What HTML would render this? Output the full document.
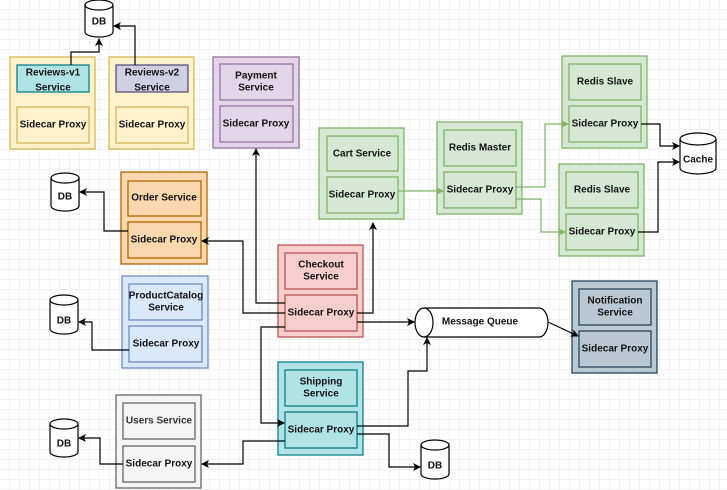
<!DOCTYPE html>
<html><head><meta charset="utf-8"><style>
html,body{margin:0;padding:0;background:#fff}
svg{display:block}
text{font-family:"Liberation Sans",Arial,sans-serif;font-size:10px;font-weight:bold;fill:#111;text-anchor:middle;dominant-baseline:central}
</style></head><body>
<svg width="727" height="490" viewBox="0 0 727 490" xmlns="http://www.w3.org/2000/svg">
<defs>
<pattern id="g" width="10" height="10" patternUnits="userSpaceOnUse"><path d="M10 0V10H0" fill="none" stroke="#e4e4e4" stroke-width="1"/></pattern>
<marker id="a" markerWidth="8" markerHeight="8" refX="7" refY="4" orient="auto" markerUnits="userSpaceOnUse"><path d="M0,0 L8,4 L0,8 L2,4z" fill="#000"/></marker>
<marker id="ag" markerWidth="8" markerHeight="8" refX="7" refY="4" orient="auto" markerUnits="userSpaceOnUse"><path d="M0,0 L8,4 L0,8 L2,4z" fill="#82b366"/></marker>
</defs>
<rect width="727" height="490" fill="url(#g)"/>

<!-- boxes -->
<g stroke-width="1.3">
<!-- Reviews v1 -->
<rect x="10" y="57" width="85" height="92" fill="#fff2cc" stroke="#d6b656"/>
<rect x="17" y="65" width="72" height="27" fill="#b0e3e6" stroke="#0e8088"/>
<rect x="17" y="107" width="72" height="36" fill="#fff2cc" stroke="#d6b656"/>
<!-- Reviews v2 -->
<rect x="109" y="57" width="85" height="92" fill="#fff2cc" stroke="#d6b656"/>
<rect x="116" y="65" width="72" height="27" fill="#d0cee2" stroke="#56517e"/>
<rect x="116" y="107" width="72" height="36" fill="#fff2cc" stroke="#d6b656"/>
<!-- Payment -->
<rect x="213" y="57" width="86" height="91" fill="#e1d5e7" stroke="#9673a6"/>
<rect x="220" y="64" width="73" height="36" fill="#e1d5e7" stroke="#9673a6"/>
<rect x="220" y="106" width="73" height="36" fill="#e1d5e7" stroke="#9673a6"/>
<!-- Order -->
<rect x="121" y="172" width="86" height="92" fill="#fad7ac" stroke="#b46504"/>
<rect x="128" y="181" width="73" height="35" fill="#fad7ac" stroke="#b46504"/>
<rect x="128" y="222" width="73" height="36" fill="#fad7ac" stroke="#b46504"/>
<!-- Cart -->
<rect x="319" y="128" width="85" height="91" fill="#d5e8d4" stroke="#82b366"/>
<rect x="327" y="136" width="71" height="35" fill="#d5e8d4" stroke="#82b366"/>
<rect x="327" y="177" width="71" height="36" fill="#d5e8d4" stroke="#82b366"/>
<!-- Redis master -->
<rect x="437" y="122" width="85" height="92" fill="#d5e8d4" stroke="#82b366"/>
<rect x="444" y="130" width="72" height="36" fill="#d5e8d4" stroke="#82b366"/>
<rect x="444" y="172" width="72" height="36" fill="#d5e8d4" stroke="#82b366"/>
<!-- slave 1 -->
<rect x="562" y="56" width="85" height="92" fill="#d5e8d4" stroke="#82b366"/>
<rect x="569" y="64" width="72" height="36" fill="#d5e8d4" stroke="#82b366"/>
<rect x="569" y="106" width="72" height="36" fill="#d5e8d4" stroke="#82b366"/>
<!-- slave 2 -->
<rect x="559" y="164" width="85" height="92" fill="#d5e8d4" stroke="#82b366"/>
<rect x="566" y="172" width="72" height="36" fill="#d5e8d4" stroke="#82b366"/>
<rect x="566" y="214" width="72" height="36" fill="#d5e8d4" stroke="#82b366"/>
<!-- Checkout -->
<rect x="278" y="245" width="85" height="92" fill="#f8cecc" stroke="#b85450"/>
<rect x="285" y="253" width="72" height="36" fill="#f8cecc" stroke="#b85450"/>
<rect x="285" y="295" width="72" height="36" fill="#f8cecc" stroke="#b85450"/>
<!-- ProductCatalog -->
<rect x="122" y="276" width="86" height="92" fill="#dae8fc" stroke="#6c8ebf"/>
<rect x="129" y="284" width="73" height="36" fill="#dae8fc" stroke="#6c8ebf"/>
<rect x="129" y="326" width="73" height="36" fill="#dae8fc" stroke="#6c8ebf"/>
<!-- Notification -->
<rect x="572" y="281" width="85" height="92" fill="#bac8d3" stroke="#23445d"/>
<rect x="579" y="289" width="72" height="36" fill="#bac8d3" stroke="#23445d"/>
<rect x="579" y="331" width="72" height="36" fill="#bac8d3" stroke="#23445d"/>
<!-- Shipping -->
<rect x="278" y="362" width="85" height="93" fill="#b0e3e6" stroke="#0e8088"/>
<rect x="285" y="370" width="72" height="36" fill="#b0e3e6" stroke="#0e8088"/>
<rect x="285" y="412" width="72" height="36" fill="#b0e3e6" stroke="#0e8088"/>
<!-- Users -->
<rect x="116" y="395" width="85" height="93" fill="#f5f5f5" stroke="#666"/>
<rect x="123" y="403" width="72" height="36" fill="#f5f5f5" stroke="#666"/>
<rect x="123" y="446" width="72" height="36" fill="#f5f5f5" stroke="#666"/>
</g>

<!-- cylinders -->
<g fill="#fff" stroke="#000" stroke-width="1.2">
<path d="M85,5 a14,5 0 0 1 28,0 v27 a14,5 0 0 1 -28,0z"/><path d="M85,5 a14,5 0 0 0 28,0" fill="none"/>
<path d="M51,178 a14,5 0 0 1 28,0 v28 a14,5 0 0 1 -28,0z"/><path d="M51,178 a14,5 0 0 0 28,0" fill="none"/>
<path d="M50,300 a14,5 0 0 1 28,0 v29 a14,5 0 0 1 -28,0z"/><path d="M50,300 a14,5 0 0 0 28,0" fill="none"/>
<path d="M50,424 a14,5 0 0 1 28,0 v28 a14,5 0 0 1 -28,0z"/><path d="M50,424 a14,5 0 0 0 28,0" fill="none"/>
<path d="M421,445 a14,5 0 0 1 28,0 v29 a14,5 0 0 1 -28,0z"/><path d="M421,445 a14,5 0 0 0 28,0" fill="none"/>
<path d="M680,139 a18,6 0 0 1 36,0 v29 a18,6 0 0 1 -36,0z"/><path d="M680,139 a18,6 0 0 0 36,0" fill="none"/>
<path d="M424,308 h115 a9,14.5 0 0 1 0,29 h-115 a9,14.5 0 0 1 0,-29z"/><path d="M424,308 a9,14.5 0 0 1 0,29" fill="none"/>
</g>

<!-- connectors -->
<g fill="none" stroke="#000" stroke-width="1.2">
<path d="M71,65 V52 H99 V39" marker-end="url(#a)"/>
<path d="M135,65 V26 H114" marker-end="url(#a)"/>
<path d="M128,231 H104 V192 H80" marker-end="url(#a)"/>
<path d="M285,303 H256 V149" marker-end="url(#a)"/>
<path d="M285,313 H243 V241 H202" marker-end="url(#a)"/>
<path d="M357,313 H373 V223" marker-end="url(#a)"/>
<path d="M357,322 H414" marker-end="url(#a)"/>
<path d="M285,327 H261 V423 H284" marker-end="url(#a)"/>
<path d="M129,350 H92 V322 H79" marker-end="url(#a)"/>
<path d="M548,322 L578,336" marker-end="url(#a)"/>
<path d="M357,426 H408 V371 H427 V338" marker-end="url(#a)"/>
<path d="M357,434 H389 V467 H420" marker-end="url(#a)"/>
<path d="M285,441 H243 V464 H202" marker-end="url(#a)"/>
<path d="M123,464 H100 V438 H79" marker-end="url(#a)"/>
<path d="M641,124 H660 V146 H679" marker-end="url(#a)"/>
<path d="M638,232 H658 V162 H679" marker-end="url(#a)"/>
</g>
<g fill="none" stroke="#82b366" stroke-width="1.2">
<path d="M398,191 H443" marker-end="url(#ag)"/>
<path d="M516,187 H545 V124 H568" marker-end="url(#ag)"/>
<path d="M516,199 H541 V232 H565" marker-end="url(#ag)"/>
</g>

<!-- labels -->
<text x="99" y="22" font-weight="normal">DB</text>
<text x="65" y="197" font-weight="normal">DB</text>
<text x="64" y="321" font-weight="normal">DB</text>
<text x="64" y="444" font-weight="normal">DB</text>
<text x="435" y="466" font-weight="normal">DB</text>
<text x="698" y="160" font-weight="normal">Cache</text>
<text x="480" y="322">Message Queue</text>

<text x="53" y="73">Reviews-v1</text><text x="53" y="88">Service</text>
<text x="53" y="125">Sidecar Proxy</text>
<text x="152" y="73">Reviews-v2</text><text x="152" y="88">Service</text>
<text x="152" y="125">Sidecar Proxy</text>
<text x="256" y="76">Payment</text><text x="256" y="88">Service</text>
<text x="256" y="124">Sidecar Proxy</text>
<text x="164" y="198">Order Service</text>
<text x="164" y="240">Sidecar Proxy</text>
<text x="362" y="154">Cart Service</text>
<text x="362" y="195">Sidecar Proxy</text>
<text x="480" y="148">Redis Master</text>
<text x="480" y="190">Sidecar Proxy</text>
<text x="605" y="82">Redis Slave</text>
<text x="605" y="124">Sidecar Proxy</text>
<text x="602" y="190">Redis Slave</text>
<text x="602" y="232">Sidecar Proxy</text>
<text x="321" y="265">Checkout</text><text x="321" y="277">Service</text>
<text x="321" y="313">Sidecar Proxy</text>
<text x="166" y="296">ProductCatalog</text><text x="166" y="308">Service</text>
<text x="166" y="344">Sidecar Proxy</text>
<text x="615" y="301">Notification</text><text x="615" y="313">Service</text>
<text x="615" y="349">Sidecar Proxy</text>
<text x="321" y="382">Shipping</text><text x="321" y="394">Service</text>
<text x="321" y="430">Sidecar Proxy</text>
<text x="159" y="421" style="fill:#333">Users Service</text>
<text x="159" y="464">Sidecar Proxy</text>
</svg>
</body></html>
